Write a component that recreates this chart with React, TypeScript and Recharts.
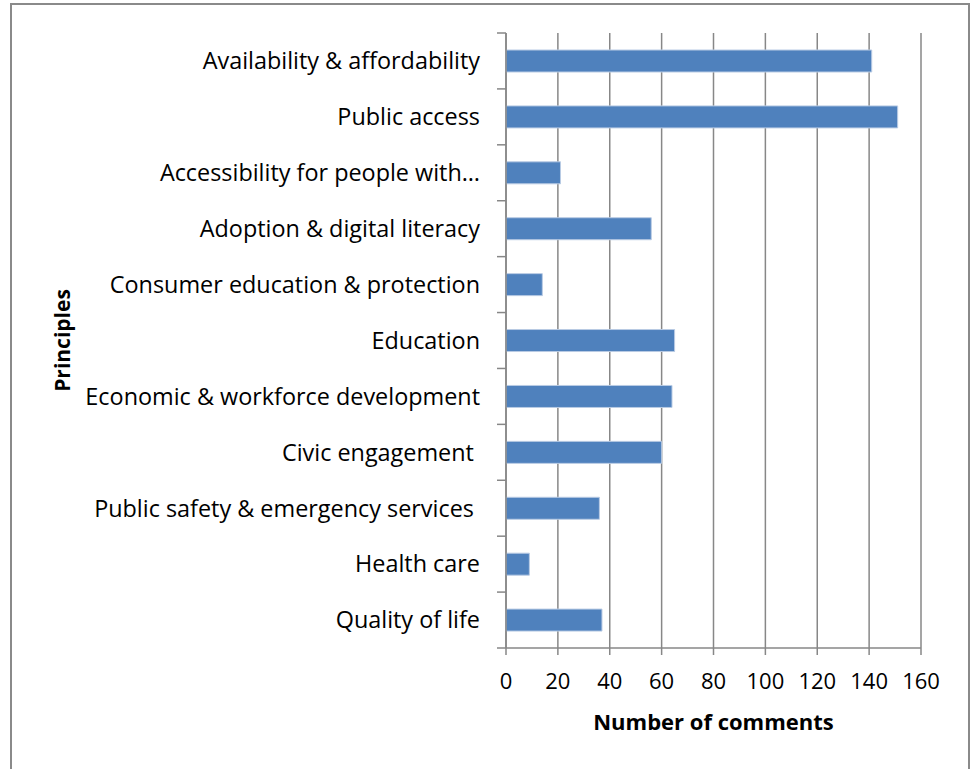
import { Bar, BarChart, CartesianGrid, XAxis, YAxis } from "recharts";

const categories = [
  "Availability & affordability",
  "Public access",
  "Accessibility for people with…",
  "Adoption & digital literacy",
  "Consumer education & protection",
  "Education",
  "Economic & workforce development",
  "Civic engagement\u00a0",
  "Public safety & emergency services\u00a0",
  "Health care",
  "Quality of life",
];
const comments = [141, 151, 21, 56, 14, 65, 64, 60, 36, 9, 37];
const xTicks = [0, 20, 40, 60, 80, 100, 120, 140, 160];

const data = categories.map((name, i) => ({ name, comments: comments[i] }));

const FONT = "'Open Sans', sans-serif";
const GRAY = "#878787";
const CHART_W = 973;
const CHART_H = 769;
const PLOT_TOP = 33;
const X_AXIS_H = 121;
const LABEL_GAP = 26;
const BAND_HALF = (CHART_H - PLOT_TOP - X_AXIS_H) / categories.length / 2;

// Excel-style category tick: label at band centre, tick marks at band edges
function CategoryTick(props: any) {
  const { x, y, payload } = props;
  const axisX = x + LABEL_GAP;
  const isLast = payload?.index === categories.length - 1;
  return (
    <g>
      <line
        x1={axisX - 9}
        x2={axisX}
        y1={y - BAND_HALF}
        y2={y - BAND_HALF}
        stroke={GRAY}
        strokeWidth={1.5}
      />
      {isLast && (
        <line
          x1={axisX - 9}
          x2={axisX}
          y1={y + BAND_HALF}
          y2={y + BAND_HALF}
          stroke={GRAY}
          strokeWidth={1.5}
        />
      )}
      <text
        x={x}
        y={y}
        dy="0.355em"
        textAnchor="end"
        fill="#000"
        fontSize={23.4}
        fontFamily={FONT}
      >
        {payload.value}
      </text>
    </g>
  );
}

export default function App() {
  return (
    <div
      style={{
        position: "absolute",
        left: 0,
        top: 0,
        width: CHART_W,
        height: CHART_H,
        background: "#fff",
        overflow: "hidden",
        fontFamily: FONT,
      }}
    >
      <div
        style={{
          position: "absolute",
          left: 10,
          top: 3,
          width: 956,
          height: 800,
          border: "2px solid #8a8a8a",
        }}
      />
      <BarChart
        width={CHART_W}
        height={CHART_H}
        data={data}
        layout="vertical"
        margin={{ top: PLOT_TOP, right: 52, left: 0, bottom: 0 }}
        barSize={22}
        style={{ position: "absolute", left: 0, top: 0 }}
      >
        <CartesianGrid
          horizontal={false}
          stroke={GRAY}
          strokeWidth={1.5}
          verticalValues={xTicks}
        />
        <XAxis
          type="number"
          domain={[0, 160]}
          ticks={xTicks}
          interval={0}
          height={X_AXIS_H}
          tickSize={7}
          tickMargin={18}
          axisLine={{ stroke: GRAY, strokeWidth: 1.5 }}
          tickLine={{ stroke: GRAY, strokeWidth: 1.5 }}
          tick={{ fill: "#000", fontSize: 22, fontFamily: FONT }}
          label={{
            value: "Number of comments",
            position: "insideTop",
            offset: 66,
            fill: "#000",
            fontSize: 22,
            fontWeight: 700,
            fontFamily: FONT,
          }}
        />
        <YAxis
          type="category"
          dataKey="name"
          width={506}
          interval={0}
          tickSize={0}
          tickMargin={LABEL_GAP}
          tickLine={false}
          axisLine={{ stroke: GRAY, strokeWidth: 1.5 }}
          tick={<CategoryTick />}
          label={{
            value: "Principles",
            angle: -90,
            position: "insideLeft",
            offset: 63,
            fill: "#000",
            fontSize: 21,
            fontWeight: 700,
            fontFamily: FONT,
            style: { textAnchor: "middle" },
          }}
        />
        <Bar
          dataKey="comments"
          fill="#4f81bd"
          stroke="#b9cbe4"
          strokeWidth={1}
          isAnimationActive={false}
        />
      </BarChart>
    </div>
  );
}
